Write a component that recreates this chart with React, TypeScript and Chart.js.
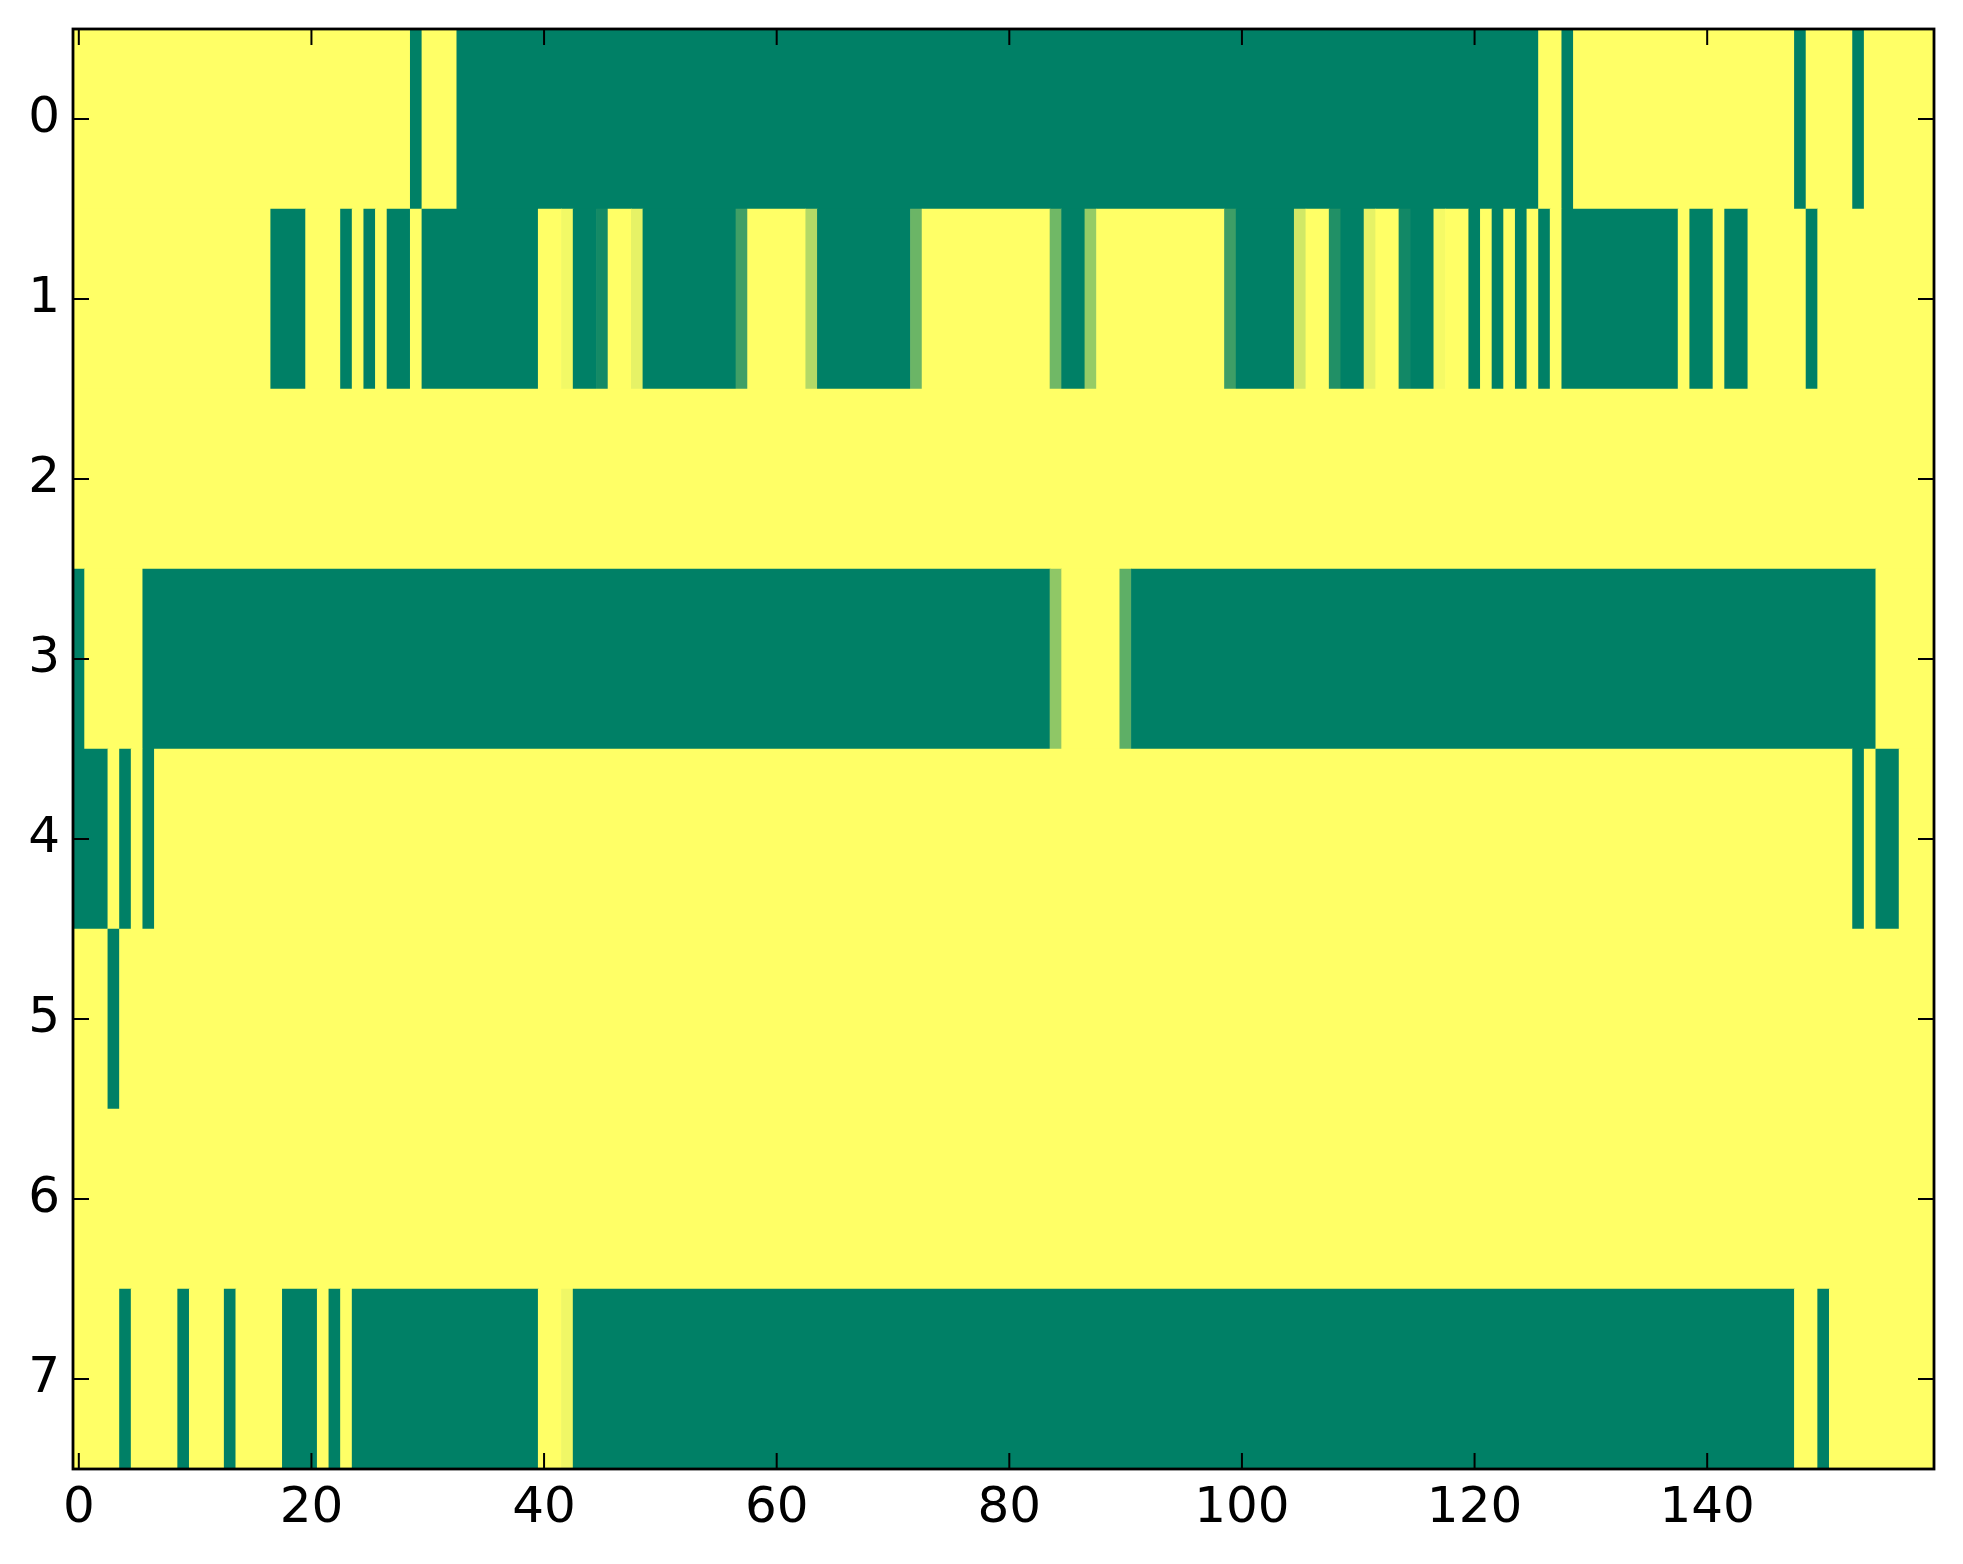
import { useEffect, useRef } from "react"
import { Chart, registerables } from "chart.js"

Chart.register(...registerables)

// row labels (top to bottom) and x tick positions
const ROWS = ["0", "1", "2", "3", "4", "5", "6", "7"]
const X_TICKS = [0, 20, 40, 60, 80, 100, 120, 140]

// cell values per row, 160 columns each (0 = yellow, 1 = green)
const ROW_0 = [
  0, 0, 0, 0, 0, 0, 0, 0, 0, 0, 0, 0, 0, 0, 0, 0, 0, 0, 0, 0,
  0, 0, 0, 0, 0, 0, 0, 0, 0, 1, 0, 0, 0, 1, 1, 1, 1, 1, 1, 1,
  1, 1, 1, 1, 1, 1, 1, 1, 1, 1, 1, 1, 1, 1, 1, 1, 1, 1, 1, 1,
  1, 1, 1, 1, 1, 1, 1, 1, 1, 1, 1, 1, 1, 1, 1, 1, 1, 1, 1, 1,
  1, 1, 1, 1, 1, 1, 1, 1, 1, 1, 1, 1, 1, 1, 1, 1, 1, 1, 1, 1,
  1, 1, 1, 1, 1, 1, 1, 1, 1, 1, 1, 1, 1, 1, 1, 1, 1, 1, 1, 1,
  1, 1, 1, 1, 1, 1, 0, 0, 1, 0, 0, 0, 0, 0, 0, 0, 0, 0, 0, 0,
  0, 0, 0, 0, 0, 0, 0, 0, 1, 0, 0, 0, 0, 1, 0, 0, 0, 0, 0, 0,
]
const ROW_1 = [
  0, 0, 0, 0, 0, 0, 0, 0, 0, 0, 0, 0, 0, 0, 0, 0, 0, 1, 1, 1,
  0, 0, 0, 1, 0, 1, 0, 1, 1, 0, 1, 1, 1, 1, 1, 1, 1, 1, 1, 1,
  0, 0, 0.05, 1, 1, 0.92, 0, 0, 0.1, 1, 1, 1, 1, 1, 1, 1, 1, 0.75, 0, 0,
  0, 0, 0, 0.3, 1, 1, 1, 1, 1, 1, 1, 1, 0.58, 0, 0, 0, 0, 0, 0, 0,
  0, 0, 0, 0, 0.56, 1, 1, 0.41, 0, 0, 0, 0, 0, 0, 0, 0, 0, 0, 0, 0.76,
  1, 1, 1, 1, 1, 0.18, 0, 0, 0.87, 1, 1, 0.1, 0, 0, 0.93, 1, 1, 0.04, 0, 0,
  1, 0, 1, 0, 1, 0, 1, 0, 1, 1, 1, 1, 1, 1, 1, 1, 1, 1, 0, 1,
  1, 0, 1, 1, 0, 0, 0, 0, 0, 1, 0, 0, 0, 0, 0, 0, 0, 0, 0, 0,
]
const ROW_2 = [
  0, 0, 0, 0, 0, 0, 0, 0, 0, 0, 0, 0, 0, 0, 0, 0, 0, 0, 0, 0,
  0, 0, 0, 0, 0, 0, 0, 0, 0, 0, 0, 0, 0, 0, 0, 0, 0, 0, 0, 0,
  0, 0, 0, 0, 0, 0, 0, 0, 0, 0, 0, 0, 0, 0, 0, 0, 0, 0, 0, 0,
  0, 0, 0, 0, 0, 0, 0, 0, 0, 0, 0, 0, 0, 0, 0, 0, 0, 0, 0, 0,
  0, 0, 0, 0, 0, 0, 0, 0, 0, 0, 0, 0, 0, 0, 0, 0, 0, 0, 0, 0,
  0, 0, 0, 0, 0, 0, 0, 0, 0, 0, 0, 0, 0, 0, 0, 0, 0, 0, 0, 0,
  0, 0, 0, 0, 0, 0, 0, 0, 0, 0, 0, 0, 0, 0, 0, 0, 0, 0, 0, 0,
  0, 0, 0, 0, 0, 0, 0, 0, 0, 0, 0, 0, 0, 0, 0, 0, 0, 0, 0, 0,
]
const ROW_3 = [
  1, 0, 0, 0, 0, 0, 1, 1, 1, 1, 1, 1, 1, 1, 1, 1, 1, 1, 1, 1,
  1, 1, 1, 1, 1, 1, 1, 1, 1, 1, 1, 1, 1, 1, 1, 1, 1, 1, 1, 1,
  1, 1, 1, 1, 1, 1, 1, 1, 1, 1, 1, 1, 1, 1, 1, 1, 1, 1, 1, 1,
  1, 1, 1, 1, 1, 1, 1, 1, 1, 1, 1, 1, 1, 1, 1, 1, 1, 1, 1, 1,
  1, 1, 1, 1, 0.44, 0, 0, 0, 0, 0, 0.63, 1, 1, 1, 1, 1, 1, 1, 1, 1,
  1, 1, 1, 1, 1, 1, 1, 1, 1, 1, 1, 1, 1, 1, 1, 1, 1, 1, 1, 1,
  1, 1, 1, 1, 1, 1, 1, 1, 1, 1, 1, 1, 1, 1, 1, 1, 1, 1, 1, 1,
  1, 1, 1, 1, 1, 1, 1, 1, 1, 1, 1, 1, 1, 1, 1, 0, 0, 0, 0, 0,
]
const ROW_4 = [
  1, 1, 1, 0, 1, 0, 1, 0, 0, 0, 0, 0, 0, 0, 0, 0, 0, 0, 0, 0,
  0, 0, 0, 0, 0, 0, 0, 0, 0, 0, 0, 0, 0, 0, 0, 0, 0, 0, 0, 0,
  0, 0, 0, 0, 0, 0, 0, 0, 0, 0, 0, 0, 0, 0, 0, 0, 0, 0, 0, 0,
  0, 0, 0, 0, 0, 0, 0, 0, 0, 0, 0, 0, 0, 0, 0, 0, 0, 0, 0, 0,
  0, 0, 0, 0, 0, 0, 0, 0, 0, 0, 0, 0, 0, 0, 0, 0, 0, 0, 0, 0,
  0, 0, 0, 0, 0, 0, 0, 0, 0, 0, 0, 0, 0, 0, 0, 0, 0, 0, 0, 0,
  0, 0, 0, 0, 0, 0, 0, 0, 0, 0, 0, 0, 0, 0, 0, 0, 0, 0, 0, 0,
  0, 0, 0, 0, 0, 0, 0, 0, 0, 0, 0, 0, 0, 1, 0, 1, 1, 0, 0, 0,
]
const ROW_5 = [
  0, 0, 0, 1, 0, 0, 0, 0, 0, 0, 0, 0, 0, 0, 0, 0, 0, 0, 0, 0,
  0, 0, 0, 0, 0, 0, 0, 0, 0, 0, 0, 0, 0, 0, 0, 0, 0, 0, 0, 0,
  0, 0, 0, 0, 0, 0, 0, 0, 0, 0, 0, 0, 0, 0, 0, 0, 0, 0, 0, 0,
  0, 0, 0, 0, 0, 0, 0, 0, 0, 0, 0, 0, 0, 0, 0, 0, 0, 0, 0, 0,
  0, 0, 0, 0, 0, 0, 0, 0, 0, 0, 0, 0, 0, 0, 0, 0, 0, 0, 0, 0,
  0, 0, 0, 0, 0, 0, 0, 0, 0, 0, 0, 0, 0, 0, 0, 0, 0, 0, 0, 0,
  0, 0, 0, 0, 0, 0, 0, 0, 0, 0, 0, 0, 0, 0, 0, 0, 0, 0, 0, 0,
  0, 0, 0, 0, 0, 0, 0, 0, 0, 0, 0, 0, 0, 0, 0, 0, 0, 0, 0, 0,
]
const ROW_6 = [
  0, 0, 0, 0, 0, 0, 0, 0, 0, 0, 0, 0, 0, 0, 0, 0, 0, 0, 0, 0,
  0, 0, 0, 0, 0, 0, 0, 0, 0, 0, 0, 0, 0, 0, 0, 0, 0, 0, 0, 0,
  0, 0, 0, 0, 0, 0, 0, 0, 0, 0, 0, 0, 0, 0, 0, 0, 0, 0, 0, 0,
  0, 0, 0, 0, 0, 0, 0, 0, 0, 0, 0, 0, 0, 0, 0, 0, 0, 0, 0, 0,
  0, 0, 0, 0, 0, 0, 0, 0, 0, 0, 0, 0, 0, 0, 0, 0, 0, 0, 0, 0,
  0, 0, 0, 0, 0, 0, 0, 0, 0, 0, 0, 0, 0, 0, 0, 0, 0, 0, 0, 0,
  0, 0, 0, 0, 0, 0, 0, 0, 0, 0, 0, 0, 0, 0, 0, 0, 0, 0, 0, 0,
  0, 0, 0, 0, 0, 0, 0, 0, 0, 0, 0, 0, 0, 0, 0, 0, 0, 0, 0, 0,
]
const ROW_7 = [
  0, 0, 0, 0, 1, 0, 0, 0, 0, 1, 0, 0, 0, 1, 0, 0, 0, 0, 1, 1,
  1, 0, 1, 0, 1, 1, 1, 1, 1, 1, 1, 1, 1, 1, 1, 1, 1, 1, 1, 1,
  0, 0, 0.06, 1, 1, 1, 1, 1, 1, 1, 1, 1, 1, 1, 1, 1, 1, 1, 1, 1,
  1, 1, 1, 1, 1, 1, 1, 1, 1, 1, 1, 1, 1, 1, 1, 1, 1, 1, 1, 1,
  1, 1, 1, 1, 1, 1, 1, 1, 1, 1, 1, 1, 1, 1, 1, 1, 1, 1, 1, 1,
  1, 1, 1, 1, 1, 1, 1, 1, 1, 1, 1, 1, 1, 1, 1, 1, 1, 1, 1, 1,
  1, 1, 1, 1, 1, 1, 1, 1, 1, 1, 1, 1, 1, 1, 1, 1, 1, 1, 1, 1,
  1, 1, 1, 1, 1, 1, 1, 1, 0, 0, 1, 0, 0, 0, 0, 0, 0, 0, 0, 0,
]

const GRID = [ROW_0, ROW_1, ROW_2, ROW_3, ROW_4, ROW_5, ROW_6, ROW_7]

const FONT = { family: "DejaVu Sans", size: 50 }
const TICK_LEN = 16

// matplotlib "summer_r"
function summerR(v: number) {
  const r = Math.round(255 * (1 - v))
  const g = Math.round(255 * (1 - v / 2))
  return `rgb(${r}, ${g}, 102)`
}

// inward ticks on all four sides plus the box, like matplotlib classic
const frameAndTicks = {
  id: "frameAndTicks",
  afterDraw(chart: any) {
    const { ctx, chartArea, scales } = chart
    const { left, right, top, bottom } = chartArea
    ctx.save()
    ctx.strokeStyle = "#000"
    ctx.lineWidth = 2
    ctx.beginPath()
    scales.x.ticks.forEach((t: any) => {
      const px = scales.x.getPixelForValue(t.value)
      ctx.moveTo(px, bottom)
      ctx.lineTo(px, bottom - TICK_LEN)
      ctx.moveTo(px, top)
      ctx.lineTo(px, top + TICK_LEN)
    })
    scales.y.ticks.forEach((_: any, i: number) => {
      const py = scales.y.getPixelForTick(i)
      ctx.moveTo(left, py)
      ctx.lineTo(left + TICK_LEN, py)
      ctx.moveTo(right, py)
      ctx.lineTo(right - TICK_LEN, py)
    })
    ctx.stroke()
    ctx.lineWidth = 2.8
    ctx.strokeRect(left, top, right - left, bottom - top)
    ctx.restore()
  },
}

export default function App() {
  const chartRef = useRef<HTMLCanvasElement>(null)
  const chartInstance = useRef<Chart | null>(null)

  useEffect(() => {
    if (!chartRef.current) return
    document.body.style.margin = "0"

    if (chartInstance.current) {
      chartInstance.current.destroy()
    }

    // merge equal neighbouring cells of a row into one floating bar
    const bars: any[] = []
    const colors: string[] = []
    GRID.forEach((row, r) => {
      let start = 0
      for (let c = 1; c <= row.length; c++) {
        if (c === row.length || row[c] !== row[start]) {
          bars.push({ x: [start - 0.5, c - 0.5], y: ROWS[r] })
          colors.push(summerR(row[start]))
          start = c
        }
      }
    })

    chartInstance.current = new Chart(chartRef.current, {
      type: "bar",
      data: {
        labels: ROWS,
        datasets: [
          {
            data: bars,
            backgroundColor: colors,
            borderWidth: 0,
            barPercentage: 1,
            categoryPercentage: 1,
          },
        ],
      },
      options: {
        indexAxis: "y",
        animation: false,
        responsive: false,
        layout: { padding: { top: 29, right: 29, left: 0, bottom: 0 } },
        plugins: {
          legend: { display: false },
          tooltip: { enabled: false },
        },
        scales: {
          x: {
            type: "linear",
            min: -0.5,
            max: GRID[0].length - 0.5,
            afterBuildTicks: (axis: any) => {
              axis.ticks = X_TICKS.map((v) => ({ value: v }))
            },
            afterFit: (axis: any) => {
              axis.height = 95
              axis.paddingLeft = 0
              axis.paddingRight = 0
            },
            grid: { display: false, drawTicks: false },
            border: { display: false },
            ticks: {
              font: FONT,
              color: "#000",
              padding: 10,
              maxRotation: 0,
              autoSkip: false,
            },
          },
          y: {
            type: "category",
            afterFit: (axis: any) => {
              axis.width = 73
              axis.paddingTop = 0
              axis.paddingBottom = 0
            },
            grid: { display: false, drawTicks: false },
            border: { display: false },
            ticks: { font: FONT, color: "#000", padding: 13 },
          },
        },
      },
      plugins: [frameAndTicks],
    } as any)

    return () => {
      if (chartInstance.current) {
        chartInstance.current.destroy()
        chartInstance.current = null
      }
    }
  }, [])

  return (
    <div style={{ width: 1963, height: 1564 }}>
      <canvas ref={chartRef} width={1963} height={1564} style={{ display: "block" }} />
    </div>
  )
}
